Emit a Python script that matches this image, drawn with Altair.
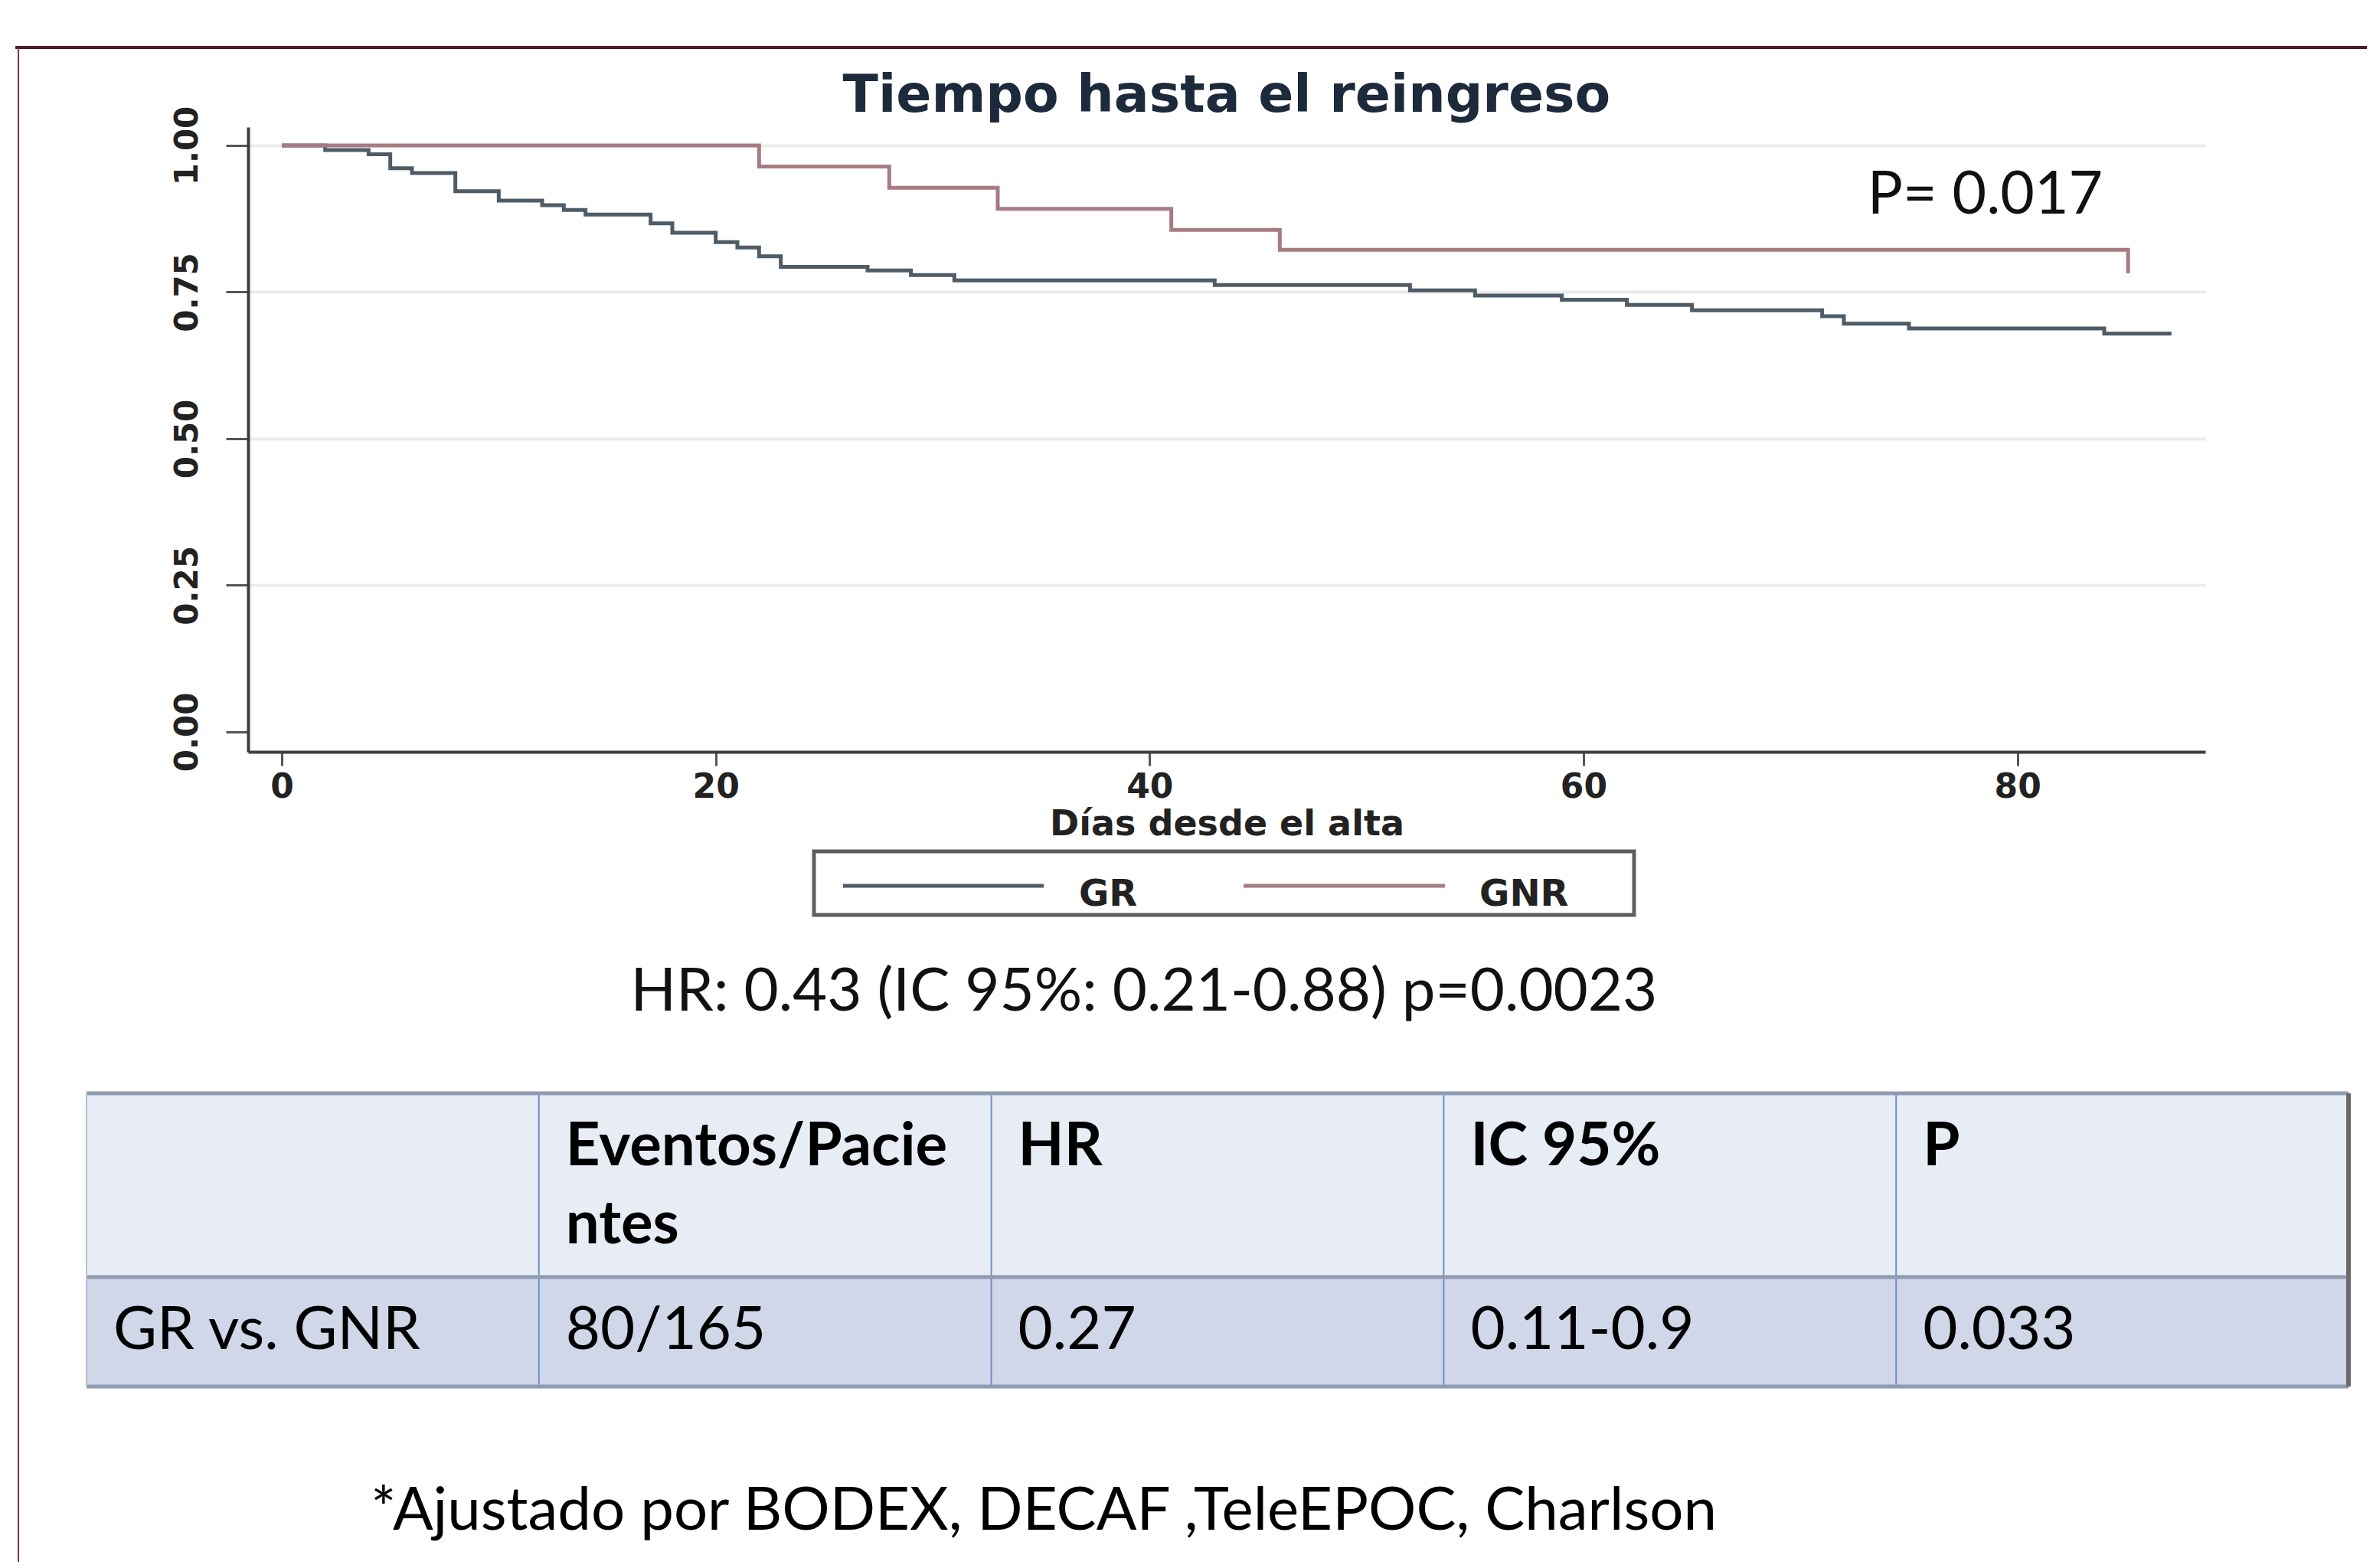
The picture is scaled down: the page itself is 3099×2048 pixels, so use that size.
import altair as alt
import pandas as pd

# ---------------- data ----------------
gr_days = [0, 2, 4, 5, 6, 8, 10, 12, 13, 14, 17, 18, 20, 21, 22, 23, 27, 29, 31,
           43, 52, 55, 59, 62, 65, 71, 72, 75, 84, 87.1]
gr_surv = [1.0, 0.992, 0.985, 0.961, 0.953, 0.922, 0.906, 0.898, 0.890, 0.882,
           0.867, 0.851, 0.835, 0.826, 0.811, 0.793, 0.787, 0.779, 0.770,
           0.762, 0.753, 0.744, 0.737, 0.728, 0.719, 0.709, 0.696, 0.688, 0.679, 0.679]
gnr_days = [0, 22, 28, 33, 41, 46, 85.1]
gnr_surv = [1.0, 0.964, 0.928, 0.892, 0.856, 0.822, 0.782]
groups = ["GR", "GNR"]
x_ticks = [0, 20, 40, 60, 80]
y_ticks = [0, 0.25, 0.5, 0.75, 1.0]

chart_title = "Tiempo hasta el reingreso"
x_title = "Días desde el alta"
p_label = "P= 0.017"
hr_label = "HR: 0.43 (IC 95%: 0.21-0.88) p=0.0023"
footnote = "*Ajustado por BODEX, DECAF ,TeleEPOC, Charlson"

table_header = ["", "Eventos/Pacie\nntes", "HR", "IC 95%", "P"]
table_row = ["GR vs. GNR", "80/165", "0.27", "0.11-0.9", "0.033"]

# ---------------- styles / layout ----------------
GR_COLOR = "#4e5c68"
GNR_COLOR = "#a77b82"
AX_FONT = "DejaVu Sans"
SLIDE_FONT = "Lato"
W, H = 2556, 816

x_scale = alt.Scale(domain=[-1.553, 88.66], nice=False, zero=False)
y_scale = alt.Scale(domain=[-0.034, 1.0313], nice=False, zero=False)
color_scale = alt.Scale(domain=groups, range=[GR_COLOR, GNR_COLOR])

x_axis = alt.Axis(values=x_ticks, title=x_title, grid=False, tickSize=18, tickWidth=3,
                  tickColor="#555555", domainColor="#3d3d3d", domainWidth=4,
                  labelFont=AX_FONT, labelFontSize=44, labelFontWeight="bold",
                  labelColor="#222222", labelPadding=6, labelFlush=False,
                  titleFont=AX_FONT, titleFontSize=46, titleFontWeight="bold",
                  titleColor="#222222", titleBaseline="alphabetic", titleY=108)
y_axis = alt.Axis(values=y_ticks, format=".2f", title=None, grid=True,
                  gridColor="#ebebeb", gridWidth=4,
                  gridOpacity={"condition": {"test": "datum.value === 0", "value": 0}, "value": 1},
                  tickSize=29, tickWidth=3, tickColor="#555555",
                  domainColor="#3d3d3d", domainWidth=4,
                  labelFont=AX_FONT, labelFontSize=42, labelFontWeight="bold",
                  labelColor="#222222",
                  labelAngle=270, labelAlign="center", labelBaseline="bottom",
                  labelPadding=29, labelFlush=False)

km_df = pd.DataFrame({
    "t": gr_days + gnr_days,
    "s": gr_surv + gnr_surv,
    "group": [groups[0]] * len(gr_days) + [groups[1]] * len(gnr_days),
})

def km_line(g):
    return alt.Chart(km_df).transform_filter(alt.datum.group == g).mark_line(
        interpolate="step-after", strokeWidth=5, clip=False
    ).encode(
        x=alt.X("t:Q", scale=x_scale, axis=x_axis),
        y=alt.Y("s:Q", scale=y_scale, axis=y_axis),
        color=alt.Color("group:N", scale=color_scale, legend=None),
    )

gr_line = km_line(groups[0])
gnr_line = km_line(groups[1])

def note(text, x, y, size=77, align="left", color="#111111", font=SLIDE_FONT, weight="normal"):
    return alt.Chart(pd.DataFrame({"label": [text]})).mark_text(
        font=font, fontSize=size, fontWeight=weight, align=align, baseline="alphabetic",
        color=color
    ).encode(x=alt.datum(x), y=alt.datum(y), text="label:N")

title_text = note(chart_title, 43.55, 1.0574, size=68, align="center", color="#1d2a3b",
                  font=AX_FONT, weight="bold")
p_text = note(p_label, 73.09, 0.8838)
hr_text = note(hr_label, 39.74, -0.4752, size=78, align="center")
foot_text = note(footnote, 35.12, -1.3603, size=78, align="center", color="#000000")

# slide frame lines (in chart coordinates)
top_rule = alt.Chart(pd.DataFrame({"k": [0]})).mark_rule(color="#4e1a22", strokeWidth=4).encode(
    x=alt.datum(-12.28), x2=alt.datum(96.42), y=alt.datum(1.1671))
left_rule = alt.Chart(pd.DataFrame({"k": [0]})).mark_rule(color="#7a3a40", strokeWidth=2).encode(
    x=alt.datum(-12.14), y=alt.datum(1.1671), y2=alt.datum(-1.4217))

# legend box, samples and labels
leg_box = alt.Chart(pd.DataFrame({"k": [0]})).mark_rect(
    fill="#ffffff", stroke="#5e5e5e", strokeWidth=5).encode(
    x=alt.datum(24.53), x2=alt.datum(62.33), y=alt.datum(-0.2037), y2=alt.datum(-0.3120))
leg_df = pd.DataFrame({"group": groups,
                       "x0": [25.87, 44.33], "x1": [35.12, 53.61], "xl": [36.74, 55.20]})
leg_lines = alt.Chart(leg_df).mark_rule(strokeWidth=5).encode(
    x="x0:Q", x2="x1:Q", y=alt.datum(-0.2624),
    color=alt.Color("group:N", scale=color_scale, legend=None))
leg_labels = alt.Chart(leg_df).mark_text(
    font=AX_FONT, fontSize=48, fontWeight="bold", align="left", baseline="alphabetic",
    color="#222222").encode(
    x="xl:Q", y=alt.datum(-0.297), text="group:N")

km = alt.layer(gr_line, gnr_line, title_text, p_text, hr_text, foot_text, top_rule, left_rule,
               leg_box, leg_lines, leg_labels)

# ---------------- table ----------------
NCOL = len(table_header)
HEADER_H = 2.35   # in text-line units
DATA_H = 1.40
TABLE_H = HEADER_H + DATA_H
FIRST_BASE = 0.92
tx = alt.Scale(domain=[0, NCOL], range=[-211, 2743], nice=False, zero=False)
ty = alt.Scale(domain=[0, TABLE_H], range=[1262, 1645], nice=False, zero=False)

cells = []
for i, (h, d) in enumerate(zip(table_header, table_row)):
    cells.append({"c0": i, "c1": i + 1, "r0": 0.0, "r1": HEADER_H, "row": "header",
                  "tb": FIRST_BASE, "text": h})
    cells.append({"c0": i, "c1": i + 1, "r0": HEADER_H, "r1": TABLE_H, "row": "data",
                  "tb": HEADER_H + FIRST_BASE, "text": d})
cells_df = pd.DataFrame(cells)

cell_rects = alt.Chart(cells_df).mark_rect().encode(
    x=alt.X("c0:Q", scale=tx, axis=None), x2="c1:Q",
    y=alt.Y("r0:Q", scale=ty, axis=None), y2="r1:Q",
    fill=alt.Fill("row:N", scale=alt.Scale(domain=["header", "data"],
                                           range=["#e8edf5", "#cfd7e8"]), legend=None))

vlines_df = pd.DataFrame({"c": list(range(1, NCOL)), "r0": 0.0, "r1": TABLE_H})
vlines = alt.Chart(vlines_df).mark_rule(color="#6f8fc6", strokeWidth=2).encode(
    x=alt.X("c:Q", scale=tx, axis=None), y=alt.Y("r0:Q", scale=ty, axis=None), y2="r1:Q")

hlines_df = pd.DataFrame({"r": [0.0, HEADER_H, TABLE_H], "c0": 0, "c1": NCOL})
hlines = alt.Chart(hlines_df).mark_rule(color="#8e9bb1", strokeWidth=5).encode(
    x=alt.X("c0:Q", scale=tx, axis=None), x2="c1:Q", y=alt.Y("r:Q", scale=ty, axis=None))

edges_df = pd.DataFrame({"c": [0, NCOL], "r0": 0.0, "r1": TABLE_H, "side": ["left", "right"]})
edge_l = alt.Chart(edges_df).transform_filter(alt.datum.side == "left").mark_rule(
    color="#b3c0d4", strokeWidth=2).encode(
    x=alt.X("c:Q", scale=tx, axis=None), y=alt.Y("r0:Q", scale=ty, axis=None), y2="r1:Q")
edge_r = alt.Chart(edges_df).transform_filter(alt.datum.side == "right").mark_rule(
    color="#6a6a6a", strokeWidth=6).encode(
    x=alt.X("c:Q", scale=tx, axis=None), y=alt.Y("r0:Q", scale=ty, axis=None), y2="r1:Q")

head_text = alt.Chart(cells_df).transform_filter(alt.datum.row == "header").mark_text(
    font=SLIDE_FONT, fontSize=78, fontWeight="bold", align="left", baseline="alphabetic",
    dx=35, lineBreak="\n", lineHeight=102, color="#000000").encode(
    x=alt.X("c0:Q", scale=tx, axis=None), y=alt.Y("tb:Q", scale=ty, axis=None), text="text:N")
data_text = alt.Chart(cells_df).transform_filter(alt.datum.row == "data").mark_text(
    font=SLIDE_FONT, fontSize=78, align="left", baseline="alphabetic",
    dx=35, color="#000000").encode(
    x=alt.X("c0:Q", scale=tx, axis=None), y=alt.Y("tb:Q", scale=ty, axis=None), text="text:N")

table = alt.layer(cell_rects, vlines, hlines, edge_l, edge_r, head_text, data_text)

chart = alt.layer(km, table).resolve_scale(x="independent", y="independent").properties(
    width=W, height=H,
    padding={"left": 316, "top": 158, "right": 211, "bottom": 1058},
    autosize=alt.AutoSizeParams(type="none"),
    background="#ffffff",
).configure_view(stroke=None)

chart.save("out.html", embed_options={"renderer": "svg", "actions": False})
